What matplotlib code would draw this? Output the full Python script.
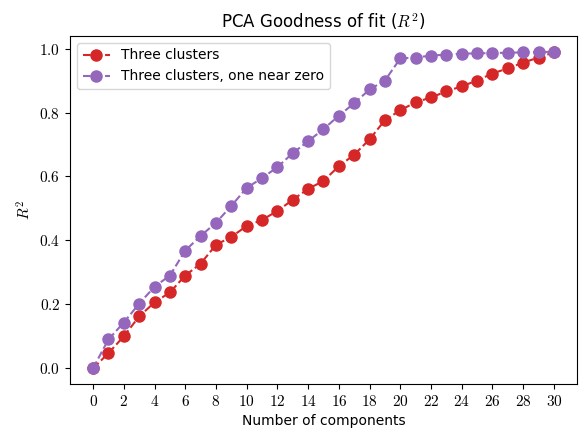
import numpy as np
import matplotlib
matplotlib.use("Agg")
import matplotlib.pyplot as plt
from matplotlib.ticker import FuncFormatter

plt.rcParams['mathtext.fontset'] = 'cm'
plt.rcParams['font.family'] = ['DejaVu Sans']

# number of components
n_comp = list(range(31))

# R^2 values
r2_three = [0.0, 0.047, 0.100, 0.162, 0.206, 0.237, 0.290, 0.327, 0.386, 0.411,
            0.445, 0.464, 0.492, 0.527, 0.561, 0.586, 0.632, 0.668, 0.716, 0.776,
            0.807, 0.832, 0.847, 0.866, 0.882, 0.900, 0.922, 0.938, 0.956, 0.972,
            0.988]
r2_near_zero = [0.0, 0.090, 0.143, 0.202, 0.255, 0.290, 0.368, 0.414, 0.455, 0.508,
                0.564, 0.595, 0.629, 0.673, 0.710, 0.748, 0.790, 0.829, 0.872, 0.900,
                0.969, 0.972, 0.978, 0.981, 0.984, 0.985, 0.986, 0.987, 0.988, 0.989,
                0.990]

fig = plt.figure(figsize=(5.86, 4.33), dpi=100)
ax = fig.add_axes([0.1195, 0.113, 0.865, 0.804])

ax.plot(n_comp, r2_three, '--o', color='#d62728', markersize=8, lw=1.5,
        label='Three clusters')
ax.plot(n_comp, r2_near_zero, '--o', color='#9467bd', markersize=8, lw=1.5,
        label='Three clusters, one near zero')

ax.set_xticks(np.arange(0, 31, 2))
ax.set_yticks(np.arange(0, 1.01, 0.2))
ax.xaxis.set_major_formatter(FuncFormatter(lambda v, p: r'$%d$' % v))
ax.yaxis.set_major_formatter(FuncFormatter(lambda v, p: r'$%.1f$' % v))
ax.tick_params(labelsize=11)

ax.set_xlabel('Number of components', fontsize=10)
ax.set_ylabel(r'$R^2$', fontsize=11)
ax.set_title(r'PCA Goodness of fit ($R^2$)', fontsize=12)
ax.legend(loc='upper left', fontsize=10)

fig.savefig('out.png', dpi=100)
